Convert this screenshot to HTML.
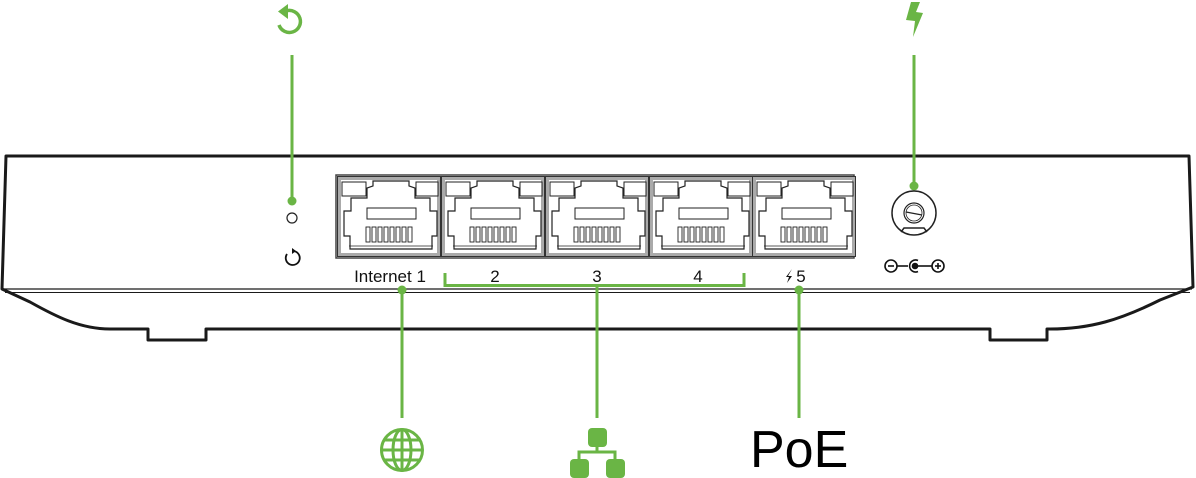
<!DOCTYPE html>
<html><head><meta charset="utf-8"><style>
html,body{margin:0;padding:0;background:#fff;width:1196px;height:478px;overflow:hidden}
svg{display:block}
</style></head><body>
<svg width="1196" height="478" viewBox="0 0 1196 478" xmlns="http://www.w3.org/2000/svg">
<defs>
<g id="port">
  <rect x="0.5" y="0.5" width="103" height="80" fill="#fff" stroke="#333" stroke-width="1"/>
  <rect x="2.5" y="2.5" width="99" height="76" fill="none" stroke="#aaa" stroke-width="3"/>
  <rect x="5" y="6" width="24" height="14" fill="#fff" stroke="#222" stroke-width="1"/>
  <rect x="79" y="6" width="22" height="14" fill="#fff" stroke="#222" stroke-width="1"/>
  <path d="M36,5 H72 V10 L78,12 V22 H93 V35 H100 V60 H95 V73 H13 V60 H7 V35 H14 V22 H30 V12 L36,10 Z" fill="#fff" stroke="#222" stroke-width="1.2"/>
  <path d="M12,70 H96" fill="none" stroke="#222" stroke-width="0.8"/>
  <path d="M30,32 H79 V43 H30 Z" fill="#fff" stroke="#222" stroke-width="1"/>
  <g fill="#fff" stroke="#222" stroke-width="0.9">
    <rect x="29" y="51" width="4" height="15"/><rect x="35" y="51" width="4" height="15"/>
    <rect x="41" y="51" width="4" height="15"/><rect x="47" y="51" width="4" height="15"/>
    <rect x="53" y="51" width="4" height="15"/><rect x="59" y="51" width="4" height="15"/>
    <rect x="65" y="51" width="4" height="15"/><rect x="71" y="51" width="4" height="15"/>
  </g>
</g>
</defs>

<!-- body -->
<path d="M6,156 H1189 L1193,287 L1160,300 C1120,320 1090,329 1050,329 H1047 V340 H990 V329 H206 V340 H148 V329 H110 C80,329 55,316 30,302 L2,289 Z" fill="#fff" stroke="#1a1a1a" stroke-width="3" stroke-linejoin="round"/>
<line x1="3" y1="289" x2="1192" y2="289" stroke="#1a1a1a" stroke-width="1.2"/>
<line x1="5" y1="292.5" x2="1190" y2="292.5" stroke="#1a1a1a" stroke-width="1"/>

<!-- ports -->
<rect x="336" y="175" width="518" height="83" fill="#fff" stroke="#444" stroke-width="1.5"/>
<use href="#port" x="337" y="176"/>
<use href="#port" x="441" y="176"/>
<use href="#port" x="545" y="176"/>
<use href="#port" x="649" y="176"/>
<use href="#port" x="752" y="176"/>

<!-- port labels -->
<g font-family="Liberation Sans, sans-serif" font-size="17" fill="#111" text-anchor="middle">
  <text x="390" y="282">Internet 1</text>
  <text x="495" y="282">2</text>
  <text x="597" y="282">3</text>
  <text x="698" y="282">4</text>
  <text x="801" y="282">5</text>
</g>
<path d="M792,269 L788,276 H792 L787,283 L789,277 H786 Z" fill="#111"/>

<!-- green connectors -->
<g stroke="#6ab545" stroke-width="3" fill="none">
  <path d="M445,273 V285.5 H744 V273"/>
  <line x1="597" y1="285" x2="597" y2="418"/>
  <line x1="402" y1="290" x2="402" y2="418"/>
  <line x1="799" y1="290" x2="799" y2="418"/>
  <line x1="292" y1="55" x2="292" y2="200"/>
  <line x1="914" y1="55" x2="914" y2="186"/>
</g>
<g fill="#6ab545">
  <circle cx="402" cy="290" r="4.5"/>
  <circle cx="799" cy="290" r="4.5"/>
  <circle cx="292" cy="201" r="4.5"/>
  <circle cx="914" cy="186" r="4.5"/>
</g>

<!-- LED + reset -->
<circle cx="292" cy="218" r="5" fill="#fff" stroke="#222" stroke-width="1.2"/>
<path d="M287,254 A7,7 0 1 0 293,251" fill="none" stroke="#111" stroke-width="1.8"/>
<path d="M292,248 L296,251 L292,254 Z" fill="#111"/>

<!-- green reset icon -->
<path d="M286,11 A11,11 0 1 1 279,25" fill="none" stroke="#6ab545" stroke-width="3.5"/>
<path d="M288,4 L288,19 L278,11.5 Z" fill="#6ab545"/>

<!-- power jack -->
<circle cx="914" cy="213" r="22" fill="#fff" stroke="#222" stroke-width="1.5"/>
<circle cx="914" cy="213" r="10" fill="#fff" stroke="#222" stroke-width="1.2"/>
<circle cx="914" cy="213" r="8" fill="none" stroke="#222" stroke-width="0.8"/>
<line x1="906" y1="212" x2="922" y2="215" stroke="#222" stroke-width="1.2"/>
<path d="M901,232 L904,228 H924 L927,232" fill="none" stroke="#222" stroke-width="1.5"/>
<!-- polarity -->
<g stroke="#111" stroke-width="1.6" fill="none">
  <circle cx="891" cy="266" r="6"/>
  <line x1="888" y1="266" x2="894" y2="266"/>
  <line x1="897" y1="266" x2="908" y2="266"/>
  <path d="M918,260.5 A6,6 0 1 0 918,271.5"/>
  <line x1="916" y1="266" x2="932" y2="266"/>
  <circle cx="938" cy="266" r="6"/>
  <line x1="935" y1="266" x2="941" y2="266"/>
  <line x1="938" y1="263" x2="938" y2="269"/>
</g>
<circle cx="915" cy="266" r="3.3" fill="#111"/>

<!-- green bolt -->
<path d="M911,2 L920,2 L916,12 L923,13 L913,37 L915,21 L906,20 Z" fill="#6ab545"/>

<!-- globe -->
<g stroke="#6ab545" stroke-width="3" fill="none">
  <circle cx="402" cy="450" r="20.5"/>
  <ellipse cx="402" cy="450" rx="9" ry="20.5"/>
  <line x1="402" y1="430" x2="402" y2="470"/>
  <line x1="382" y1="450" x2="422" y2="450"/>
  <line x1="385" y1="440" x2="419" y2="440"/>
  <line x1="385" y1="460" x2="419" y2="460"/>
</g>

<!-- network icon -->
<g fill="#6ab545">
  <rect x="588" y="428" width="19" height="19" rx="4"/>
  <rect x="570" y="459" width="19" height="19" rx="4"/>
  <rect x="606" y="459" width="19" height="19" rx="4"/>
</g>
<path d="M597,446 V452 M579,460 V452 H615 V460" fill="none" stroke="#6ab545" stroke-width="3"/>

<!-- PoE -->
<text x="750" y="467" font-family="Liberation Sans, sans-serif" font-size="52" fill="#000">PoE</text>
</svg>
</body></html>
